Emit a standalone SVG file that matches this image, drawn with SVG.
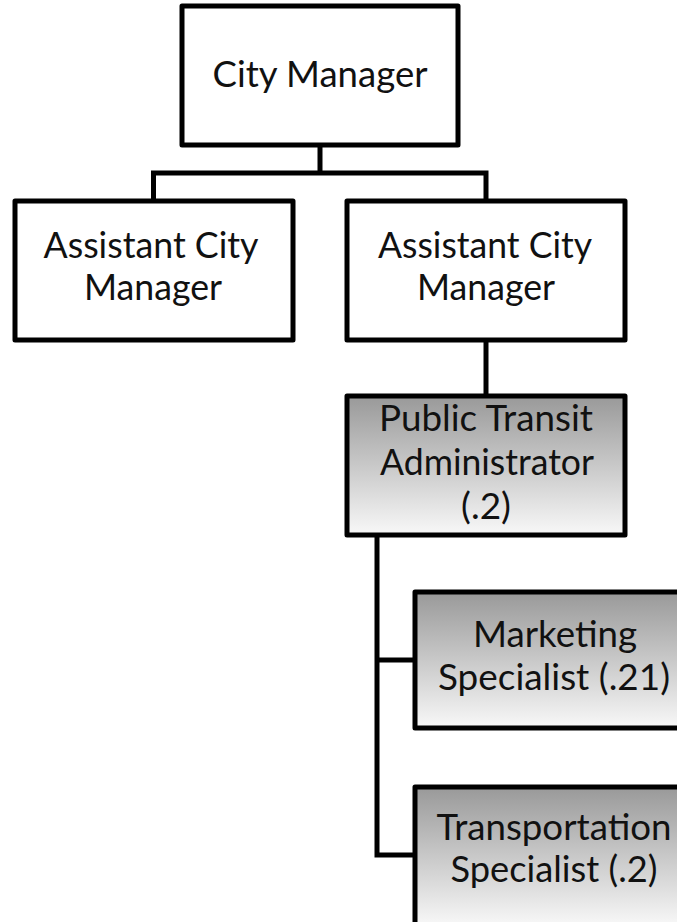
<svg xmlns="http://www.w3.org/2000/svg" width="677" height="922" viewBox="0 0 677 922">
  <style>
    .box { stroke: #000; stroke-width: 5; stroke-linejoin: round; }
    .plain { fill: #fff; }
    .shaded { fill: url(#shade); }
    .lbl { font-family: "Lato", "Open Sans", "Liberation Sans", sans-serif; font-size: 37px; fill: #111; text-anchor: middle; }
    .wire { fill: none; stroke: #000; stroke-width: 5; }
  </style>
  <defs>
    <linearGradient id="shade" x1="0" y1="0" x2="0" y2="1">
      <stop offset="0" stop-color="#999999"/>
      <stop offset="1" stop-color="#f8f8f8"/>
    </linearGradient>
  </defs>
  <rect width="677" height="922" fill="#fff"/>

  <g id="connectors">
    <path class="wire" d="M320 145 V173"/>
    <path class="wire" d="M153.5 201 V173 H486 V201"/>
    <path class="wire" d="M486 340 V396"/>
    <path class="wire" d="M377 535 V855 H415"/>
    <path class="wire" d="M377 660 H415"/>
  </g>

  <g id="city-manager">
    <rect class="box plain" x="182" y="6" width="276" height="139"/>
    <text class="lbl" x="320" y="87" textLength="215" lengthAdjust="spacingAndGlyphs">City Manager</text>
  </g>

  <g id="assistant-left">
    <rect class="box plain" x="15" y="201" width="278" height="139"/>
    <text class="lbl" x="151" y="258" textLength="215" lengthAdjust="spacingAndGlyphs">Assistant City</text>
    <text class="lbl" x="153" y="300" textLength="138" lengthAdjust="spacingAndGlyphs">Manager</text>
  </g>

  <g id="assistant-right">
    <rect class="box plain" x="347" y="201" width="278" height="139"/>
    <text class="lbl" x="485" y="258" textLength="214" lengthAdjust="spacingAndGlyphs">Assistant City</text>
    <text class="lbl" x="486" y="300" textLength="138" lengthAdjust="spacingAndGlyphs">Manager</text>
  </g>

  <g id="transit-admin">
    <rect class="box shaded" x="347" y="396" width="278" height="139"/>
    <text class="lbl" x="486" y="431" textLength="214" lengthAdjust="spacingAndGlyphs">Public Transit</text>
    <text class="lbl" x="487" y="475" textLength="214" lengthAdjust="spacingAndGlyphs">Administrator</text>
    <text class="lbl" x="486" y="519">(.2)</text>
  </g>

  <g id="marketing">
    <rect class="box shaded" x="415" y="592" width="278" height="136"/>
    <text class="lbl" x="555" y="647" textLength="164" lengthAdjust="spacingAndGlyphs">Marketing</text>
    <text class="lbl" x="554" y="690" textLength="232" lengthAdjust="spacingAndGlyphs">Specialist (.21)</text>
  </g>

  <g id="transportation">
    <rect class="box shaded" x="415" y="787" width="278" height="139"/>
    <text class="lbl" x="554" y="840" textLength="235" lengthAdjust="spacingAndGlyphs">Transportation</text>
    <text class="lbl" x="554" y="882" textLength="207" lengthAdjust="spacingAndGlyphs">Specialist (.2)</text>
  </g>
</svg>
